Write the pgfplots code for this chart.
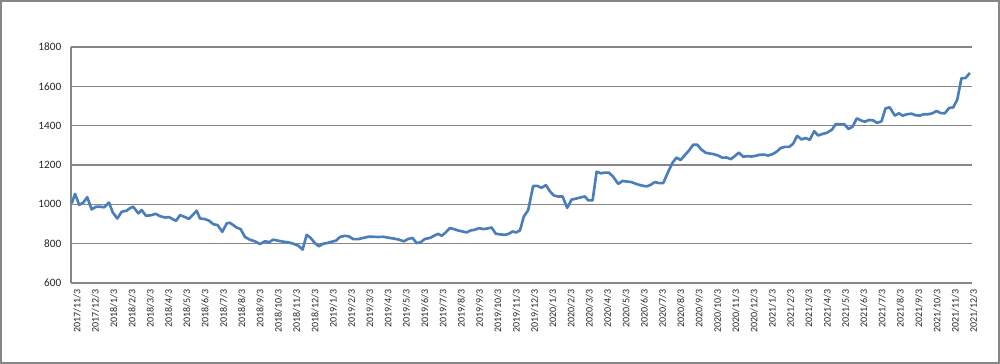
\documentclass[border=0pt]{standalone}
\usepackage{pgfplots}
\pgfplotsset{compat=1.18}
\usepackage{pgfplotstable}
\usepackage{fontspec}
\setmainfont{Carlito}
\definecolor{serie}{RGB}{74,126,187}
\definecolor{gridc}{RGB}{134,134,134}
\pgfplotstableread{
m v
0.04 1005
0.22 1053
0.45 997
0.67 1009
0.89 1036
1.13 974
1.37 988
1.58 988
1.82 985
2.08 1009
2.28 959
2.53 928
2.77 962
3.04 968
3.22 980
3.40 988
3.68 954
3.86 971
4.10 942
4.36 944
4.63 952
4.86 940
5.14 933
5.36 935
5.55 925
5.74 916
5.96 945
6.19 937
6.45 926
6.67 947
6.87 968
7.05 928
7.32 925
7.56 916
7.78 899
8.02 894
8.27 860
8.51 903
8.69 906
9.05 882
9.27 874
9.51 834
9.78 820
10.05 812
10.33 798
10.60 812
10.84 808
11.05 820
11.33 815
11.60 810
11.87 807
12.15 800
12.42 790
12.66 770
12.88 845
13.10 829
13.33 803
13.55 787
13.79 800
14.01 803
14.25 810
14.48 815
14.70 834
14.97 840
15.19 837
15.43 823
15.70 823
15.97 829
16.25 835
16.52 835
16.79 834
17.07 835
17.43 829
17.70 825
17.94 820
18.20 812
18.43 824
18.67 829
18.89 803
19.11 807
19.34 824
19.62 829
19.84 840
20.07 850
20.26 840
20.48 857
20.71 879
20.93 874
21.16 867
21.40 862
21.62 857
21.84 867
22.08 871
22.31 879
22.53 874
22.75 877
22.99 882
23.22 850
23.48 847
23.72 845
23.90 849
24.14 862
24.32 857
24.54 867
24.75 938
24.99 971
25.26 1093
25.48 1094
25.72 1084
25.96 1098
26.17 1067
26.41 1044
26.63 1040
26.87 1040
27.12 982
27.36 1024
27.60 1029
27.85 1035
28.09 1040
28.27 1020
28.51 1020
28.73 1166
28.95 1158
29.18 1161
29.40 1161
29.63 1141
29.91 1104
30.15 1119
30.37 1116
30.64 1113
30.91 1103
31.19 1096
31.46 1091
31.68 1099
31.91 1113
32.15 1108
32.37 1108
32.64 1165
32.88 1212
33.10 1238
33.32 1225
33.55 1250
33.79 1275
34.01 1303
34.23 1303
34.46 1278
34.70 1262
34.92 1258
35.14 1255
35.37 1248
35.61 1237
35.83 1238
36.07 1230
36.28 1245
36.50 1263
36.74 1242
36.96 1245
37.20 1243
37.43 1247
37.65 1252
37.89 1253
38.10 1248
38.34 1255
38.56 1267
38.80 1287
39.02 1292
39.25 1292
39.47 1308
39.69 1348
39.93 1330
40.16 1337
40.38 1328
40.62 1372
40.84 1350
41.08 1358
41.30 1363
41.60 1380
41.80 1408
42.02 1408
42.26 1408
42.50 1383
42.72 1395
42.95 1437
43.17 1427
43.39 1420
43.62 1429
43.84 1427
44.06 1414
44.30 1422
44.52 1488
44.75 1493
45.03 1451
45.25 1463
45.45 1451
45.70 1458
45.94 1461
46.17 1453
46.39 1451
46.61 1458
46.85 1458
47.09 1463
47.31 1475
47.53 1464
47.76 1463
48.00 1490
48.22 1493
48.44 1532
48.67 1641
48.89 1642
49.13 1668
}\datatable
\begin{document}
\begin{tikzpicture}
\useasboundingbox (0,0) rectangle (20cm,7.28cm);
\draw[gridc, line width=0.6pt] (0.02cm,0.02cm) rectangle (19.98cm,7.26cm);
\begin{axis}[
  at={(1.42cm,1.62cm)}, anchor=south west,
  scale only axis, width=18.01cm, height=4.72cm,
  xmin=0, xmax=49.22, ymin=600, ymax=1800,
  ytick={600,800,...,1800},
  xtick={0,1,...,49},
  xticklabels={2017/11/3,2017/12/3,2018/1/3,2018/2/3,2018/3/3,2018/4/3,2018/5/3,2018/6/3,2018/7/3,2018/8/3,2018/9/3,2018/10/3,2018/11/3,2018/12/3,2019/1/3,2019/2/3,2019/3/3,2019/4/3,2019/5/3,2019/6/3,2019/7/3,2019/8/3,2019/9/3,2019/10/3,2019/11/3,2019/12/3,2020/1/3,2020/2/3,2020/3/3,2020/4/3,2020/5/3,2020/6/3,2020/7/3,2020/8/3,2020/9/3,2020/10/3,2020/11/3,2020/12/3,2021/1/3,2021/2/3,2021/3/3,2021/4/3,2021/5/3,2021/6/3,2021/7/3,2021/8/3,2021/9/3,2021/10/3,2021/11/3,2021/12/3},
  axis lines*=left,
  axis line style={gridc, line width=0.6pt, -},
  ymajorgrids, grid style={gridc, line width=0.6pt},
  major tick length=0pt,
  /pgf/number format/assume math mode=true,
  /pgf/number format/1000 sep={},
  yticklabel style={font=\fontsize{6.4}{7}\selectfont, text=black!85, xshift=-2pt},
  xticklabel style={font=\fontsize{5.7}{6.5}\selectfont, text=black!85, rotate=90, anchor=east, yshift=-3.5pt},
  clip=false,
]
\addplot[serie, line width=1.5pt, line join=round, no markers] table[x=m,y=v] {\datatable};
\end{axis}
\end{tikzpicture}
\end{document}
